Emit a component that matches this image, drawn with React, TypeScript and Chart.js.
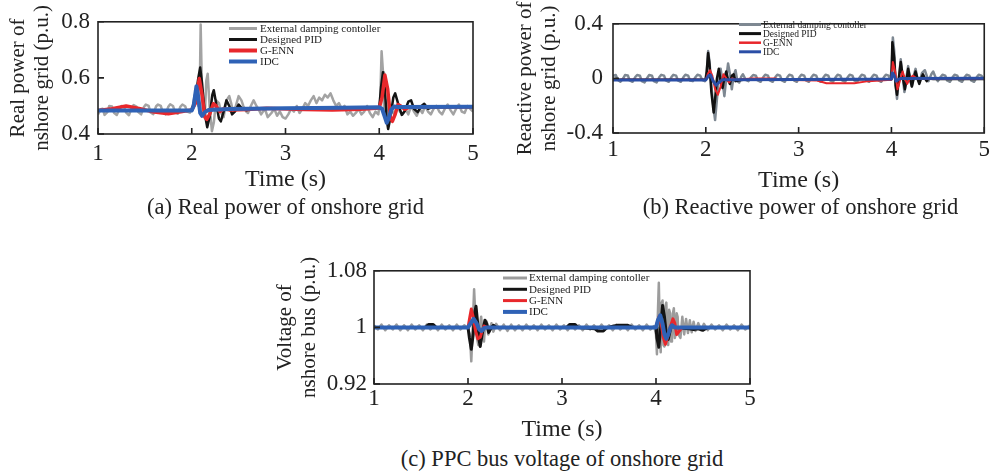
import React, { useEffect, useRef } from 'react';
import { Chart, registerables } from 'chart.js';

Chart.register(...registerables);

type P = [number, number];

const FONT = '"Liberation Serif", "Times New Roman", serif';

const xTicks = [1, 2, 3, 4, 5];
const xTickLabels = ['1', '2', '3', '4', '5'];
const seriesNames = ['External damping contoller', 'Designed PID', 'G-ENN', 'IDC'];

// ---------- (a) Real power ----------
const realTicks = [0.4, 0.6, 0.8];
const realTickLabels = ['0.4', '0.6', '0.8'];
const realExternal: P[] = [
  [1.00,0.470],[1.03,0.488],[1.05,0.490],[1.07,0.468],[1.10,0.478],[1.12,0.500],[1.15,0.498],[1.17,0.476],[1.20,0.468],[1.23,0.490],
  [1.25,0.500],[1.28,0.497],[1.30,0.476],[1.33,0.467],[1.36,0.494],[1.38,0.503],[1.41,0.498],[1.43,0.478],[1.46,0.470],[1.49,0.496],
  [1.51,0.505],[1.54,0.500],[1.56,0.477],[1.59,0.471],[1.62,0.499],[1.64,0.505],[1.67,0.500],[1.69,0.478],[1.72,0.470],[1.75,0.497],
  [1.77,0.506],[1.80,0.500],[1.82,0.479],[1.85,0.472],[1.88,0.498],[1.90,0.505],[1.93,0.499],[1.95,0.480],[1.98,0.476],[2.01,0.500],
  [2.03,0.535],[2.05,0.560],[2.07,0.500],[2.085,0.550],[2.095,0.790],[2.105,0.620],[2.115,0.490],[2.14,0.470],[2.155,0.590],[2.17,0.615],
  [2.19,0.500],[2.215,0.410],[2.235,0.440],[2.26,0.520],[2.29,0.510],[2.32,0.470],[2.34,0.460],[2.37,0.520],[2.40,0.535],[2.42,0.510],
  [2.44,0.480],[2.47,0.500],[2.50,0.535],[2.53,0.520],[2.55,0.500],[2.58,0.480],[2.60,0.475],[2.63,0.500],[2.66,0.520],[2.69,0.500],
  [2.71,0.490],[2.74,0.470],[2.78,0.490],[2.81,0.460],[2.85,0.475],[2.88,0.490],[2.91,0.465],[2.94,0.480],[2.97,0.460],[3.00,0.455],
  [3.03,0.470],[3.06,0.490],[3.09,0.480],[3.12,0.500],[3.15,0.475],[3.18,0.490],[3.21,0.510],[3.24,0.500],[3.27,0.520],[3.30,0.535],
  [3.33,0.510],[3.36,0.530],[3.39,0.520],[3.42,0.540],[3.45,0.530],[3.48,0.545],[3.51,0.520],[3.54,0.500],[3.57,0.510],[3.60,0.490],
  [3.63,0.500],[3.66,0.470],[3.69,0.480],[3.72,0.465],[3.75,0.475],[3.78,0.490],[3.81,0.470],[3.84,0.480],[3.87,0.500],[3.90,0.475],
  [3.93,0.460],[3.96,0.480],[3.99,0.470],[4.01,0.520],[4.025,0.695],[4.04,0.620],[4.05,0.500],[4.07,0.470],[4.09,0.520],[4.11,0.460],
  [4.13,0.490],[4.16,0.470],[4.19,0.500],[4.22,0.480],[4.25,0.470],[4.28,0.490],[4.31,0.470],[4.34,0.500],[4.37,0.480],[4.40,0.465],
  [4.43,0.490],[4.46,0.475],[4.49,0.500],[4.52,0.480],[4.55,0.470],[4.58,0.490],[4.61,0.500],[4.64,0.480],[4.67,0.470],[4.70,0.490],
  [4.73,0.505],[4.76,0.485],[4.79,0.470],[4.82,0.490],[4.85,0.505],[4.88,0.480],[4.91,0.475],[4.94,0.500],[4.97,0.490],[5.00,0.480],
];
const realPID: P[] = [
  [1.0,0.485],[2.0,0.485],[2.04,0.530],[2.07,0.600],[2.09,0.637],[2.11,0.580],[2.14,0.470],[2.165,0.424],[2.19,0.460],[2.22,0.540],
  [2.235,0.556],[2.26,0.510],[2.29,0.455],[2.31,0.445],[2.34,0.480],[2.37,0.520],[2.40,0.500],[2.43,0.470],[2.46,0.480],[2.50,0.505],
  [2.54,0.490],[2.58,0.485],[2.65,0.490],[4.0,0.494],[4.02,0.570],[4.04,0.620],[4.06,0.560],[4.08,0.450],[4.095,0.418],[4.12,0.460],
  [4.15,0.530],[4.17,0.545],[4.20,0.510],[4.24,0.468],[4.27,0.480],[4.31,0.515],[4.34,0.520],[4.37,0.490],[4.41,0.478],[4.45,0.500],
  [4.48,0.508],[4.52,0.490],[4.56,0.495],[5.0,0.496],
];
const realGENN: P[] = [
  [1.0,0.484],[1.15,0.490],[1.30,0.500],[1.45,0.490],[1.60,0.478],[1.75,0.472],[1.90,0.480],[2.0,0.486],[2.04,0.510],[2.08,0.598],
  [2.11,0.540],[2.14,0.460],[2.16,0.452],[2.19,0.470],[2.23,0.508],[2.26,0.500],[2.30,0.480],[2.34,0.490],[2.40,0.486],[2.60,0.487],
  [2.80,0.492],[2.95,0.490],[3.20,0.487],[3.50,0.486],[3.80,0.488],[4.0,0.493],[4.03,0.530],[4.06,0.610],[4.09,0.560],[4.12,0.460],
  [4.14,0.445],[4.17,0.470],[4.20,0.505],[4.23,0.500],[4.27,0.488],[4.32,0.496],[5.0,0.497],
];
const realIDC: P[] = [
  [1.0,0.484],[2.0,0.484],[2.02,0.500],[2.05,0.570],[2.07,0.530],[2.09,0.475],[2.11,0.465],[2.14,0.478],[2.18,0.486],[2.40,0.489],
  [3.0,0.492],[3.6,0.494],[4.0,0.495],[4.03,0.490],[4.06,0.460],[4.08,0.440],[4.10,0.455],[4.13,0.488],[4.16,0.498],[4.20,0.496],[5.0,0.497],
];

// ---------- (b) Reactive power ----------
const reactTicks = [-0.4, 0, 0.4];
const reactTickLabels = ['-0.4', '0', '0.4'];
const reactExternal: P[] = [
  [1.00,0.020],[1.03,0.025],[1.05,-0.010],[1.08,-0.025],[1.11,0.000],[1.13,0.025],[1.16,0.022],[1.18,-0.015],[1.21,-0.025],[1.24,0.010],
  [1.26,0.025],[1.29,0.020],[1.31,-0.020],[1.34,-0.030],[1.37,0.005],[1.39,0.025],[1.42,0.020],[1.44,-0.020],[1.47,-0.030],[1.50,0.010],
  [1.52,0.026],[1.55,0.020],[1.57,-0.015],[1.60,-0.025],[1.63,0.010],[1.65,0.026],[1.68,0.020],[1.70,-0.015],[1.73,-0.025],[1.76,0.010],
  [1.78,0.027],[1.81,0.020],[1.83,-0.015],[1.86,-0.020],[1.89,0.010],[1.91,0.027],[1.94,0.020],[1.96,-0.010],[1.99,-0.020],[2.01,0.050],
  [2.025,0.200],[2.04,0.120],[2.06,-0.050],[2.08,-0.200],[2.10,-0.305],[2.12,-0.150],[2.14,0.000],[2.16,0.070],[2.18,-0.020],[2.20,-0.130],
  [2.22,0.000],[2.24,0.110],[2.26,0.030],[2.28,-0.080],[2.30,0.020],[2.32,0.060],[2.34,-0.020],[2.36,-0.030],[2.38,0.010],[2.40,0.030],
  [2.43,-0.010],[2.46,-0.020],[2.49,0.010],[2.51,0.025],[2.54,0.020],[2.56,-0.015],[2.59,-0.025],[2.62,0.010],[2.64,0.027],[2.67,0.020],
  [2.69,-0.015],[2.72,-0.025],[2.75,0.010],[2.77,0.027],[2.80,0.020],[2.82,-0.015],[2.85,-0.025],[2.88,0.010],[2.90,0.027],[2.93,0.020],
  [2.95,-0.015],[2.98,-0.025],[3.01,0.010],[3.03,0.027],[3.06,0.020],[3.08,-0.015],[3.11,-0.025],[3.14,0.010],[3.16,0.027],[3.19,0.020],
  [3.21,-0.015],[3.24,-0.025],[3.27,0.010],[3.29,0.027],[3.32,0.020],[3.34,-0.015],[3.37,-0.025],[3.40,0.010],[3.42,0.027],[3.45,0.020],
  [3.47,-0.015],[3.50,-0.025],[3.53,0.010],[3.55,0.027],[3.58,0.020],[3.60,-0.015],[3.63,-0.025],[3.66,0.010],[3.68,0.027],[3.71,0.020],
  [3.73,-0.015],[3.76,-0.025],[3.79,0.010],[3.81,0.027],[3.84,0.020],[3.86,-0.015],[3.89,-0.025],[3.92,0.010],[3.94,0.027],[3.97,0.020],
  [3.99,-0.010],[4.005,0.100],[4.015,0.300],[4.03,0.200],[4.045,-0.050],[4.06,-0.150],[4.08,0.000],[4.10,0.140],[4.12,0.020],[4.14,-0.100],
  [4.16,0.000],[4.18,0.090],[4.20,0.000],[4.22,-0.060],[4.24,0.020],[4.26,0.070],[4.28,0.000],[4.30,-0.030],[4.33,0.040],[4.36,0.060],
  [4.38,0.020],[4.40,-0.020],[4.43,0.030],[4.45,0.050],[4.48,0.000],[4.50,-0.020],[4.53,0.010],[4.55,0.027],[4.58,0.020],[4.60,-0.015],
  [4.63,-0.025],[4.66,0.010],[4.68,0.027],[4.71,0.020],[4.73,-0.015],[4.76,-0.025],[4.79,0.010],[4.81,0.027],[4.84,0.020],[4.86,-0.015],
  [4.89,-0.025],[4.92,0.010],[4.94,0.027],[4.97,0.020],[5.00,-0.010],
];
const reactPID: P[] = [
  [1.0,-0.010],[2.0,-0.010],[2.01,0.050],[2.025,0.186],[2.04,0.100],[2.06,-0.100],[2.085,-0.250],[2.10,-0.150],[2.12,0.000],[2.14,0.070],
  [2.16,-0.020],[2.18,-0.070],[2.20,0.000],[2.22,0.050],[2.24,-0.010],[2.26,-0.040],[2.28,0.020],[2.30,0.030],[2.32,-0.020],[2.35,-0.015],
  [2.40,-0.010],[4.0,-0.005],[4.01,0.265],[4.03,0.150],[4.045,-0.050],[4.06,-0.120],[4.08,0.000],[4.10,0.120],[4.12,0.020],[4.145,-0.080],
  [4.165,0.000],[4.18,0.070],[4.20,0.000],[4.22,-0.060],[4.24,0.000],[4.26,0.050],[4.28,0.000],[4.30,-0.040],[4.32,0.000],[4.34,0.030],
  [4.36,0.000],[4.38,-0.020],[4.40,0.000],[4.45,-0.005],[5.0,-0.005],
];
const reactGENN: P[] = [
  [1.0,-0.010],[2.0,-0.010],[2.02,0.030],[2.045,0.060],[2.07,0.020],[2.10,-0.080],[2.13,-0.120],[2.16,-0.060],[2.19,0.030],[2.22,0.000],
  [2.25,-0.030],[2.28,0.000],[2.32,-0.010],[2.50,0.000],[2.75,0.000],[2.80,-0.010],[3.20,-0.015],[3.30,-0.035],[3.60,-0.035],[3.75,-0.020],
  [4.0,-0.010],[4.015,0.120],[4.04,0.050],[4.065,-0.080],[4.09,-0.020],[4.12,0.050],[4.15,-0.010],[4.17,-0.040],[4.20,0.000],[4.23,0.020],
  [4.27,0.000],[4.30,-0.005],[5.0,0.000],
];
const reactIDC: P[] = [
  [1.0,-0.012],[2.0,-0.012],[2.03,0.020],[2.05,0.025],[2.08,-0.020],[2.11,-0.050],[2.14,-0.030],[2.18,-0.010],[2.30,-0.010],[3.0,-0.008],
  [4.0,-0.005],[4.01,0.040],[4.03,0.020],[4.05,-0.020],[4.07,-0.010],[4.10,0.000],[5.0,0.002],
];

// ---------- (c) PPC bus voltage ----------
const voltTicks = [0.92, 1.0, 1.08];
const voltTickLabels = ['0.92', '1', '1.08'];
const voltExternal: P[] = [
  [1.00,1.003],[1.04,0.997],[1.08,1.004],[1.12,0.996],[1.16,1.003],[1.20,0.997],[1.24,1.004],[1.28,0.996],[1.32,1.003],[1.36,0.996],
  [1.40,1.004],[1.44,0.997],[1.48,1.003],[1.52,0.996],[1.56,1.004],[1.60,0.997],[1.64,1.003],[1.68,0.996],[1.72,1.004],[1.76,0.997],
  [1.80,1.003],[1.84,0.996],[1.88,1.004],[1.92,0.997],[1.96,1.003],[2.00,0.998],[2.02,0.990],[2.035,0.952],[2.05,1.000],[2.065,1.054],
  [2.08,1.010],[2.095,0.985],[2.11,0.975],[2.125,1.000],[2.14,1.015],[2.155,0.990],[2.17,0.980],[2.185,1.010],[2.20,1.008],[2.215,0.990],
  [2.23,0.995],[2.25,1.006],[2.27,0.994],[2.30,1.005],[2.34,0.996],[2.38,1.004],[2.42,0.995],[2.46,1.004],[2.50,0.996],[2.54,1.003],
  [2.58,0.996],[2.62,1.004],[2.66,0.997],[2.70,1.003],[2.74,0.996],[2.78,1.004],[2.82,0.997],[2.86,1.003],[2.90,0.996],[2.94,1.004],
  [2.98,0.997],[3.02,1.003],[3.06,0.996],[3.10,1.004],[3.14,0.997],[3.18,1.003],[3.22,0.996],[3.26,1.004],[3.30,0.997],[3.34,1.003],
  [3.38,0.996],[3.42,1.004],[3.46,0.997],[3.50,1.003],[3.54,0.996],[3.58,1.004],[3.62,0.997],[3.66,1.003],[3.70,0.996],[3.74,1.004],
  [3.78,0.997],[3.82,1.003],[3.86,0.996],[3.90,1.004],[3.94,0.997],[3.98,1.002],[4.00,0.990],[4.01,0.962],[4.02,1.020],[4.03,1.063],
  [4.04,1.000],[4.05,0.965],[4.06,1.035],[4.07,1.038],[4.08,0.975],[4.09,0.973],[4.10,1.030],[4.11,1.035],[4.12,0.980],[4.13,0.975],
  [4.14,1.025],[4.15,1.020],[4.16,0.980],[4.17,0.985],[4.18,1.020],[4.19,1.027],[4.20,0.985],[4.21,0.990],[4.22,1.020],[4.23,1.015],
  [4.24,0.990],[4.26,0.985],[4.28,1.015],[4.30,0.990],[4.32,1.012],[4.34,0.992],[4.36,1.010],[4.38,0.993],[4.40,1.008],[4.42,0.995],
  [4.45,1.006],[4.48,0.996],[4.51,1.005],[4.55,0.996],[4.59,1.004],[4.63,0.997],[4.67,1.003],[4.71,0.996],[4.75,1.004],[4.79,0.997],
  [4.83,1.003],[4.87,0.996],[4.91,1.004],[4.95,0.997],[5.00,1.003],
];
const voltPID: P[] = [
  [1.0,1.000],[1.55,1.000],[1.58,1.004],[1.63,1.004],[1.66,1.000],[2.0,1.000],[2.015,0.985],[2.035,0.969],[2.055,0.990],[2.07,1.020],
  [2.085,1.030],[2.10,1.010],[2.115,0.985],[2.13,0.973],[2.15,0.990],[2.18,1.010],[2.20,1.005],[2.22,0.993],[2.25,1.000],[2.27,1.003],
  [2.30,1.000],[3.05,1.000],[3.08,1.004],[3.14,1.004],[3.17,1.000],[3.35,0.998],[3.38,0.995],[3.44,0.995],[3.47,0.999],[3.55,1.002],
  [3.60,1.003],[3.70,1.003],[3.75,1.000],[4.0,1.000],[4.01,0.985],[4.03,0.972],[4.05,1.000],[4.07,1.031],[4.09,1.015],[4.11,0.990],
  [4.13,0.983],[4.15,0.995],[4.17,1.004],[4.20,1.000],[4.35,0.998],[4.40,0.997],[4.45,0.998],[4.50,0.996],[4.55,1.000],[5.0,1.000],
];
const voltGENN: P[] = [
  [1.0,1.000],[2.0,1.000],[2.02,1.015],[2.035,1.026],[2.055,1.015],[2.08,0.995],[2.105,0.984],[2.13,0.986],[2.15,0.995],[2.17,1.002],
  [2.20,1.000],[4.0,1.000],[4.015,1.008],[4.035,1.016],[4.055,1.005],[4.08,0.985],[4.10,0.976],[4.12,0.985],[4.15,1.000],[4.18,1.012],
  [4.20,1.006],[4.22,0.990],[4.25,0.995],[4.28,1.000],[5.0,1.000],
];
const voltIDC: P[] = [
  [1.0,1.000],[2.0,1.000],[2.03,1.006],[2.06,1.012],[2.09,1.006],[2.12,0.997],[2.145,0.995],[2.17,0.999],[2.20,1.000],[4.0,1.000],
  [4.02,1.010],[4.045,1.017],[4.07,1.005],[4.09,0.990],[4.11,0.984],[4.13,0.990],[4.155,1.000],[4.17,1.003],[4.20,1.000],[5.0,1.000],
];

const framePlugin = {
  id: 'frame',
  afterDatasetsDraw(chart: any, _args: any, opts: any) {
    const { ctx, chartArea: a, scales } = chart;
    ctx.save();
    ctx.strokeStyle = '#222';
    ctx.lineWidth = 1.6;
    ctx.strokeRect(a.left, a.top, a.right - a.left, a.bottom - a.top);
    ctx.beginPath();
    scales.x.ticks.forEach((t: any) => {
      const px = scales.x.getPixelForValue(t.value);
      ctx.moveTo(px, a.bottom);
      ctx.lineTo(px, a.bottom - 6);
    });
    scales.y.ticks.forEach((t: any) => {
      const py = scales.y.getPixelForValue(t.value);
      ctx.moveTo(a.left, py);
      ctx.lineTo(a.left + 6, py);
    });
    ctx.stroke();
    ctx.font = `${opts.size}px ${FONT}`;
    ctx.textBaseline = 'middle';
    ctx.textAlign = 'left';
    chart.data.datasets.forEach((ds: any, i: number) => {
      const y = opts.y + i * opts.step;
      ctx.strokeStyle = ds.borderColor;
      ctx.lineWidth = opts.widths[i];
      ctx.beginPath();
      ctx.moveTo(opts.x0, y);
      ctx.lineTo(opts.x1, y);
      ctx.stroke();
      ctx.fillStyle = '#222';
      ctx.fillText(ds.label, opts.tx, y + 0.5);
    });
    ctx.restore();
  },
};

type PanelCfg = {
  left: number; top: number; width: number; height: number;
  plot: { l: number; t: number; r: number; b: number };
  yTitle: string[]; yTitlePad: number; yTickPad: number;
  xTickPad: number; xTitlePad: number;
  yMin: number; yMax: number; yTicks: number[]; yTickLabels: string[];
  series: P[][]; colors: string[]; widths: number[];
  legend: any;
  caption: string; capX: number; capY: number;
};

function Panel({ cfg }: { cfg: PanelCfg }) {
  const ref = useRef<HTMLCanvasElement | null>(null);
  useEffect(() => {
    if (!ref.current) return;
    const { plot } = cfg;
    const chart = new Chart(ref.current, {
      type: 'line',
      data: {
        datasets: cfg.series.map((s, i) => ({
          label: seriesNames[i],
          data: s.map(([x, y]) => ({ x, y })),
          borderColor: cfg.colors[i],
          borderWidth: cfg.widths[i],
          pointRadius: 0,
          tension: 0,
          fill: false,
          order: 4 - i,
          borderJoinStyle: 'round' as const,
        })),
      },
      options: {
        responsive: false,
        animation: false,
        devicePixelRatio: 1,
        layout: { padding: { left: 0, top: plot.t, right: cfg.width - plot.r, bottom: 0 } },
        plugins: {
          legend: { display: false },
          tooltip: { enabled: false },
          frame: cfg.legend,
        } as any,
        scales: {
          x: {
            type: 'linear',
            min: 1,
            max: 5,
            afterBuildTicks: (s: any) => { s.ticks = xTicks.map((v) => ({ value: v })); },
            afterFit: (s: any) => { s.height = cfg.height - plot.b; },
            grid: { display: false, drawTicks: false },
            border: { display: false },
            ticks: {
              autoSkip: false, maxRotation: 0, padding: cfg.xTickPad, color: '#222',
              font: { family: FONT, size: 23, lineHeight: 1.2 },
              callback: (_v: any, i: number) => xTickLabels[i],
            },
            title: {
              display: true, text: 'Time (s)', color: '#222',
              font: { family: FONT, size: 24, lineHeight: 1.2 },
              padding: { top: 0, bottom: cfg.xTitlePad },
            },
          },
          y: {
            type: 'linear',
            min: cfg.yMin,
            max: cfg.yMax,
            afterBuildTicks: (s: any) => { s.ticks = cfg.yTicks.map((v) => ({ value: v })); },
            afterFit: (s: any) => { s.width = plot.l; },
            grid: { display: false, drawTicks: false },
            border: { display: false },
            ticks: {
              autoSkip: false, padding: cfg.yTickPad, color: '#222',
              font: { family: FONT, size: 23, lineHeight: 1.2 },
              callback: (_v: any, i: number) => cfg.yTickLabels[i],
            },
            title: {
              display: true, text: cfg.yTitle, color: '#222',
              font: { family: FONT, size: 21, lineHeight: 1.143 },
              padding: { top: cfg.yTitlePad, bottom: 0 },
            },
          },
        },
      },
      plugins: [framePlugin as any],
    });
    return () => chart.destroy();
  }, [cfg]);
  return (
    <>
      <canvas
        ref={ref}
        width={cfg.width}
        height={cfg.height}
        style={{ position: 'absolute', left: cfg.left, top: cfg.top, width: cfg.width, height: cfg.height }}
      />
      <div
        style={{
          position: 'absolute', left: cfg.capX - 250, top: cfg.capY - 13, width: 500, height: 26,
          lineHeight: '26px', textAlign: 'center', fontFamily: FONT, fontSize: 22.5, color: '#222', whiteSpace: 'nowrap',
        }}
      >
        {cfg.caption}
      </div>
    </>
  );
}

const panelA: PanelCfg = {
  left: 0, top: 0, width: 490, height: 196,
  plot: { l: 98, t: 16, r: 473, b: 134 },
  yTitle: ['Real power of', 'nshore grid (p.u.)'], yTitlePad: 6, yTickPad: 8,
  xTickPad: 6, xTitlePad: 1.6,
  yMin: 0.4, yMax: 0.8, yTicks: realTicks, yTickLabels: realTickLabels,
  series: [realExternal, realPID, realGENN, realIDC],
  colors: ['#a3a3a3', '#141414', '#e8282c', '#2f62b6'],
  widths: [2.5, 2.5, 3.5, 4],
  legend: { x0: 229, x1: 257, tx: 260, y: 28.5, step: 11, size: 11, widths: [3, 3, 4, 4] },
  caption: '(a) Real power of onshore grid', capX: 285.5, capY: 207,
};

const panelB: PanelCfg = {
  left: 500, top: 0, width: 493, height: 197,
  plot: { l: 113, t: 16, r: 488, b: 133 },
  yTitle: ['Reactive power of', 'nshore grid (p.u.)'], yTitlePad: 13, yTickPad: 10,
  xTickPad: 3, xTitlePad: 1.6,
  yMin: -0.4, yMax: 0.4, yTicks: reactTicks, yTickLabels: reactTickLabels,
  series: [reactExternal, reactPID, reactGENN, reactIDC],
  colors: ['#7e8892', '#111111', '#e8262b', '#2a4ea6'],
  widths: [2.5, 2.5, 2, 3],
  legend: { x0: 239, x1: 261, tx: 263, y: 24.5, step: 9.1, size: 9.5, widths: [3, 3, 2.5, 3] },
  caption: '(b) Reactive power of onshore grid', capX: 800.5, capY: 207,
};

const panelC: PanelCfg = {
  left: 270, top: 250, width: 490, height: 196,
  plot: { l: 104, t: 19, r: 480, b: 134 },
  yTitle: ['Voltage of', 'nshore bus (p.u.)'], yTitlePad: 3, yTickPad: 7,
  xTickPad: 1, xTitlePad: 1.6,
  yMin: 0.92, yMax: 1.08, yTicks: voltTicks, yTickLabels: voltTickLabels,
  series: [voltExternal, voltPID, voltGENN, voltIDC],
  colors: ['#9c9c9c', '#141414', '#e8282c', '#2f62b6'],
  widths: [2.5, 3, 3, 4],
  legend: { x0: 233, x1: 257, tx: 259, y: 28, step: 11.3, size: 11, widths: [3, 3, 3, 4] },
  caption: '(c) PPC bus voltage of onshore grid', capX: 562, capY: 459,
};

export default function App() {
  return (
    <div style={{ position: 'fixed', left: 0, top: 0, width: 993, height: 472, background: '#fff', overflow: 'hidden' }}>
      <Panel cfg={panelA} />
      <Panel cfg={panelB} />
      <Panel cfg={panelC} />
    </div>
  );
}
